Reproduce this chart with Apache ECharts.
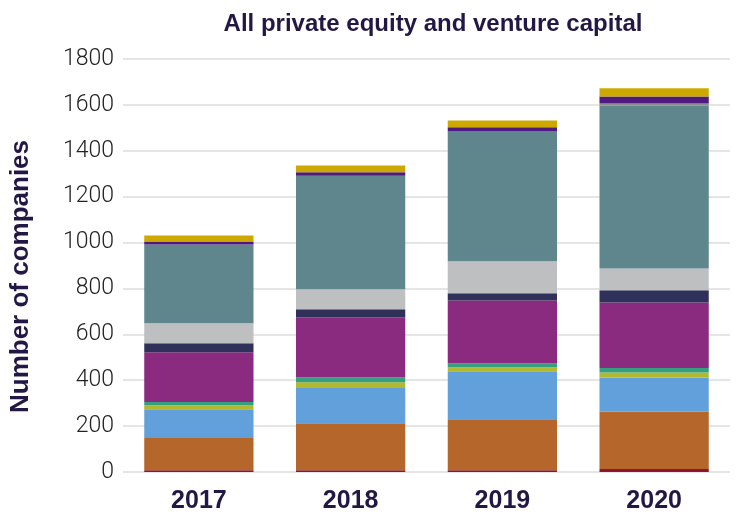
<!DOCTYPE html>
<html>
<head>
<meta charset="utf-8">
<script src="https://cdn.jsdelivr.net/npm/echarts@6/dist/echarts.min.js"></script>
<style>
  html, body { margin: 0; padding: 0; background: #fff; }
  #chart { width: 742px; height: 516px; }
</style>
</head>
<body>
<div id="chart"></div>
<script>
// Companies backed by private equity and venture capital, by year
const years = ['2017', '2018', '2019', '2020'];
const yTicks = [0, 200, 400, 600, 800, 1000, 1200, 1400, 1600, 1800];

// Segment values, stacked bottom to top
const segA = [8, 8, 8, 13];
const segB = [140, 204, 222, 251];
const segC = [125, 154, 209, 148];
const segD = [18, 25, 17, 22];
const segE = [14, 22, 17, 19];
const segF = [217, 261, 275, 286];
const segG = [39, 35, 31, 53];
const segH = [87, 87, 139, 95];
const segI = [344, 495, 566, 709];
const segJ = [0, 0, 0, 10];
const segK = [13, 15, 18, 31];
const segL = [26, 30, 30, 35];

const segments = [segA, segB, segC, segD, segE, segF, segG, segH, segI, segJ, segK, segL];
const colors = ['#8e1432', '#b4662b', '#62a0db', '#b3b92f', '#35a07d', '#8a2b80',
                '#30315a', '#bebfc1', '#5f858d', '#8d8d8f', '#4f1a7e', '#cca800'];

const ink = '#231845';

const chart = echarts.init(document.getElementById('chart'));
chart.setOption({
  animation: false,
  title: {
    text: 'All private equity and venture capital',
    left: 428, top: 7, textAlign: 'center',
    textStyle: { fontFamily: 'Liberation Sans', fontWeight: 'bold', fontSize: 24, color: ink }
  },
  grid: { left: 122, right: 12, top: 59, bottom: 44 },
  xAxis: {
    type: 'category',
    data: years,
    axisLine: { show: false },
    axisTick: { show: false },
    axisLabel: {
      margin: 17,
      fontFamily: 'Liberation Sans', fontWeight: 'bold', fontSize: 25, color: ink
    }
  },
  yAxis: {
    type: 'value',
    min: yTicks[0], max: yTicks[yTicks.length - 1], interval: 200,
    name: 'Number of companies',
    nameLocation: 'middle',
    nameGap: 89,
    nameTextStyle: {
      fontFamily: 'Liberation Sans', fontWeight: 'bold', fontSize: 26, color: ink,
      padding: [0, 22, 0, 0]
    },
    axisLine: { show: false },
    axisTick: { show: false },
    axisLabel: {
      margin: 9, fontFamily: 'Roboto', fontWeight: 300, fontSize: 23, color: '#222',
      formatter: v => String(v)
    },
    splitLine: { lineStyle: { color: '#dcdcdc', width: 1.5 } }
  },
  series: segments.map((d, i) => ({
    type: 'bar',
    stack: 'total',
    data: d,
    barWidth: '72%',
    itemStyle: { color: colors[i] }
  }))
});
</script>
</body>
</html>
